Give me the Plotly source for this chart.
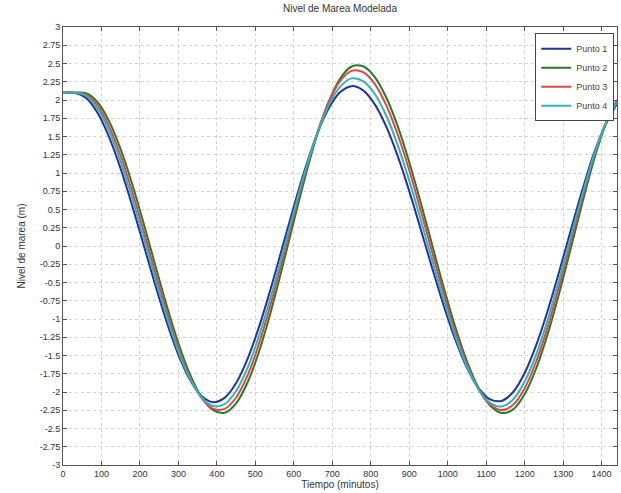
import plotly.graph_objects as go

tiempo = list(range(0, 1441, 30))

punto1 = [2.1, 2.1, 2.029, 1.821, 1.489, 1.057, 0.550, 0.007, -0.538, -1.049, -1.491, -1.833, -2.055, -2.139,
          -2.080, -1.876, -1.542, -1.101, -0.582, -0.022, 0.541, 1.070, 1.527, 1.879, 2.106, 2.190,
          2.132, 1.944, 1.638, 1.231, 0.752, 0.227, -0.310, -0.825, -1.288, -1.669, -1.946, -2.100,
          -2.122, -2.000, -1.739, -1.358, -0.883, -0.345, 0.218, 0.769, 1.269, 1.660, 1.950]
punto2 = [2.1, 2.1, 2.092, 1.969, 1.707, 1.324, 0.845, 0.303, -0.266, -0.824, -1.332, -1.757, -2.072, -2.249,
          -2.284, -2.155, -1.866, -1.439, -0.903, -0.295, 0.339, 0.957, 1.515, 1.967, 2.291, 2.459,
          2.462, 2.318, 2.038, 1.641, 1.148, 0.593, 0.006, -0.575, -1.115, -1.581, -1.946, -2.184,
          -2.287, -2.238, -2.030, -1.677, -1.204, -0.642, -0.030, 0.591, 1.178, 1.660, 2.000]
punto3 = [2.1, 2.1, 2.077, 1.922, 1.635, 1.233, 0.742, 0.197, -0.366, -0.910, -1.397, -1.795, -2.080, -2.229,
          -2.232, -2.075, -1.768, -1.331, -0.795, -0.197, 0.419, 1.013, 1.539, 1.962, 2.260, 2.399,
          2.381, 2.222, 1.930, 1.527, 1.037, 0.483, -0.093, -0.659, -1.179, -1.621, -1.961, -2.172,
          -2.250, -2.176, -1.948, -1.582, -1.104, -0.543, 0.060, 0.663, 1.227, 1.680, 1.990]
punto4 = [2.1, 2.1, 2.057, 1.878, 1.569, 1.151, 0.653, 0.108, -0.448, -0.977, -1.447, -1.819, -2.072, -2.192,
          -2.165, -1.986, -1.665, -1.225, -0.698, -0.118, 0.473, 1.037, 1.529, 1.918, 2.180, 2.296,
          2.259, 2.086, 1.788, 1.383, 0.896, 0.357, -0.201, -0.744, -1.238, -1.652, -1.964, -2.148,
          -2.199, -2.102, -1.858, -1.485, -1.006, -0.456, 0.129, 0.708, 1.242, 1.670, 1.970]

series_names = ["Punto 1", "Punto 2", "Punto 3", "Punto 4"]
series_colors = ["#22339e", "#2a7a2a", "#e4463e", "#2fb3bd"]

y_tick_vals = [3 - 0.25 * i for i in range(25)]
y_tick_text = ["3", "2.75", "2.5", "2.25", "2", "1.75", "1.5", "1.25", "1", "0.75", "0.5", "0.25", "0",
               "-0.25", "-0.5", "-0.75", "-1", "-1.25", "-1.5", "-1.75", "-2", "-2.25", "-2.5", "-2.75", "-3"]
x_tick_vals = list(range(0, 1401, 100))
x_tick_text = [str(v) for v in x_tick_vals]

fig = go.Figure()
for name, vals, col in zip(series_names, [punto1, punto2, punto3, punto4], series_colors):
    fig.add_trace(go.Scatter(x=tiempo, y=vals, mode="lines", name=name,
                             line=dict(color=col, width=2, shape="spline", smoothing=1.0)))

font_family = "Liberation Sans, Arial, sans-serif"
fig.update_layout(
    width=621, height=493,
    margin=dict(l=63, r=4, t=27, b=28),
    paper_bgcolor="white", plot_bgcolor="white",
    font=dict(family=font_family, size=9, color="#333"),
    title=dict(text="Nivel de Marea Modelada", x=0.5, xanchor="center", xref="paper",
               y=0.99, yanchor="top", font=dict(size=10, color="#333")),
    showlegend=True,
    legend=dict(x=0.995, y=0.986, xanchor="right", yanchor="top",
                bgcolor="white", bordercolor="#444", borderwidth=1,
                font=dict(size=9, color="#444"), tracegroupgap=0, itemwidth=30),
)
fig.update_xaxes(range=[0, 1440], tickvals=x_tick_vals, ticktext=x_tick_text,
                 showline=True, linecolor="#555", linewidth=1, mirror="ticks",
                 ticks="inside", ticklen=4, tickcolor="#555",
                 showgrid=True, gridcolor="#d2d2d2", griddash="dot", gridwidth=1,
                 zeroline=False,
                 title=dict(text="Tiempo (minutos)", standoff=2, font=dict(size=10)))
fig.update_yaxes(range=[-3, 3], tickvals=y_tick_vals, ticktext=y_tick_text,
                 showline=True, linecolor="#555", linewidth=1, mirror="ticks",
                 ticks="inside", ticklen=4, tickcolor="#555",
                 showgrid=True, gridcolor="#d2d2d2", griddash="dot", gridwidth=1,
                 zeroline=False,
                 title=dict(text="Nivel de marea (m)", standoff=12, font=dict(size=10)))

fig.write_html("out.html", config={"displayModeBar": False},
               post_script="document.body.style.margin='0';document.body.style.overflow='hidden';")
